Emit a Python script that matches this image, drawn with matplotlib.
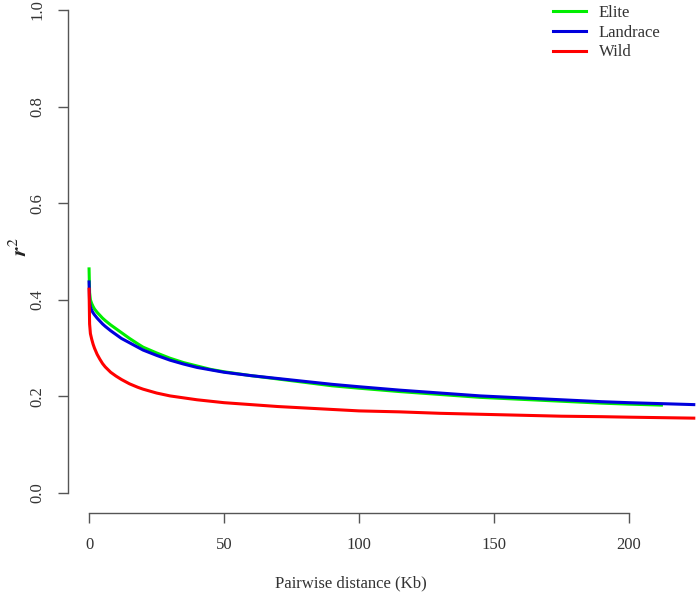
import matplotlib
matplotlib.use("Agg")
import matplotlib.pyplot as plt

plt.rcParams['font.family'] = ['Liberation Serif', 'DejaVu Serif']
plt.rcParams['mathtext.fontset'] = 'stix'

# distance in Kb, r^2 values
dist = [0, 0.2, 0.5, 1, 1.5, 2, 3, 4, 5, 6, 8, 10, 12, 15, 18, 20, 25, 30, 35, 40,
        45, 50, 60, 70, 80, 90, 100, 115, 130, 145, 160, 175, 190, 200, 212, 224]
elite = [0.464, 0.415, 0.4, 0.392, 0.386, 0.381, 0.374, 0.368, 0.362, 0.357, 0.348,
         0.34, 0.332, 0.32, 0.309, 0.302, 0.29, 0.279, 0.27, 0.263, 0.256, 0.251,
         0.243, 0.236, 0.229, 0.222, 0.217, 0.21, 0.204, 0.198, 0.194, 0.19, 0.186,
         0.184, 0.182]
landrace = [0.437, 0.395, 0.385, 0.378, 0.373, 0.369, 0.362, 0.356, 0.35, 0.345,
            0.336, 0.328, 0.32, 0.311, 0.302, 0.296, 0.285, 0.275, 0.267, 0.26,
            0.255, 0.25, 0.243, 0.237, 0.231, 0.225, 0.22, 0.213, 0.207, 0.201,
            0.197, 0.193, 0.189, 0.187, 0.185, 0.183]
wild = [0.422, 0.35, 0.33, 0.318, 0.308, 0.3, 0.287, 0.277, 0.268, 0.261, 0.25,
        0.242, 0.235, 0.226, 0.219, 0.215, 0.207, 0.201, 0.197, 0.193, 0.19, 0.187,
        0.183, 0.179, 0.176, 0.173, 0.17, 0.168, 0.165, 0.163, 0.161, 0.159, 0.158,
        0.157, 0.156, 0.155]

xticks = [0, 50, 100, 150, 200]
yticks = [0.0, 0.2, 0.4, 0.6, 0.8, 1.0]

fig = plt.figure(figsize=(7, 5.95), dpi=100)
ax = fig.add_axes([68 / 700, 82 / 595, 1 - 68 / 700, 513 / 595])

ax.plot(dist[:len(elite)], elite, color='#00ee00', lw=2.2, label='Elite')
ax.plot(dist, landrace, color='#0000dd', lw=2.2, label='Landrace')
ax.plot(dist, wild, color='#ff0000', lw=2.2, label='Wild')

ax.set_xlim(-7.8, 226.3)
ax.set_ylim(-0.0414, 1.0207)

for s in ['top', 'right']:
    ax.spines[s].set_visible(False)
ax.spines['left'].set_bounds(0, 1)
ax.spines['bottom'].set_bounds(0, 200)
for s in ['left', 'bottom']:
    ax.spines[s].set_color('#555555')
    ax.spines[s].set_linewidth(1.0)

ax.set_xticks(xticks)
ax.set_xticklabels([str(t) for t in xticks])
ax.set_yticks(yticks)
ax.set_yticklabels(['%.1f' % t for t in yticks], rotation=90, va='center')
ax.tick_params(length=7, width=1.0, color='#555555', labelsize=12, labelcolor='#333333')
ax.tick_params(axis='x', pad=10)
ax.tick_params(axis='y', pad=9)

fig.text(351 / 700, 1 - 583 / 595, 'Pairwise distance (Kb)', ha='center', va='center',
         fontsize=12, color='#333333')
fig.text(21 / 700, 1 - 247 / 595, r'$\mathbfit{r}^{2}$', rotation=90, ha='center',
         va='center', fontsize=16, color='#222222')

ax.legend(loc='upper left', bbox_to_anchor=(553 / 700, 1 - 5 / 595),
          bbox_transform=fig.transFigure, frameon=False, fontsize=12,
          borderpad=0, borderaxespad=0, handlelength=2.0, handletextpad=0.75,
          labelspacing=0.22, labelcolor='#333333')

fig.savefig('out.png', dpi=100)
